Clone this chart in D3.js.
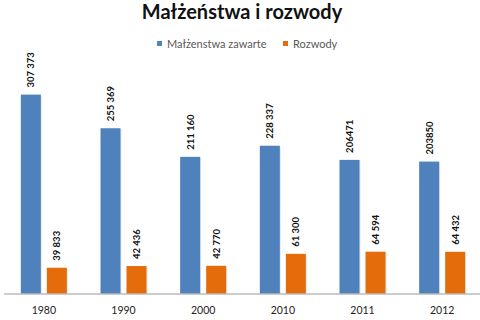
<!DOCTYPE html>
<html>
<head>
<meta charset="utf-8">
<script src="https://cdn.jsdelivr.net/npm/d3@7"></script>
<style>
  body { margin: 0; background: #fff; }
  svg { display: block; }
</style>
</head>
<body>
<svg id="chart" width="480" height="320"></svg>
<script>
var years = ["1980", "1990", "2000", "2010", "2011", "2012"];
var marriages = [307373, 255369, 211160, 228337, 206471, 203850];
var divorces = [39833, 42436, 42770, 61300, 64594, 64432];
var marriageLabels = ["307 373", "255 369", "211 160", "228 337", "206471", "203850"];
var divorceLabels = ["39 833", "42 436", "42 770", "61 300", "64 594", "64 432"];
var seriesNames = ["Małżenstwa zawarte", "Rozwody"];

var colors = ["#4f81bd", "#e46c0a"];
var font = "Lato, 'Open Sans', sans-serif";

var svg = d3.select("#chart");

var x = d3.scaleBand()
  .domain(years)
  .range([4, 482]);

var y = d3.scaleLinear()
  .domain([0, 350000])
  .range([293.5, 67]);

var barW = 20;

// title
svg.append("text")
  .attr("x", 242)
  .attr("y", 19)
  .attr("text-anchor", "middle")
  .style("font-family", font)
  .style("font-weight", "bold")
  .style("font-size", "20px")
  .style("fill", "#111")
  .text("Małżeństwa i rozwody");

// legend
var legend = svg.append("g").style("font-family", font).style("font-size", "11px");
var legendX = [157, 283];
seriesNames.forEach(function(name, i){
  legend.append("rect")
    .attr("x", legendX[i]).attr("y", 41)
    .attr("width", 5).attr("height", 5)
    .attr("fill", colors[i]);
  legend.append("text")
    .attr("x", legendX[i] + 10).attr("y", 47.5)
    .style("fill", "#595959")
    .text(name);
});

var groups = [
  {values: marriages, labels: marriageLabels, off: -13, color: colors[0]},
  {values: divorces, labels: divorceLabels, off: 13, color: colors[1]}
];

groups.forEach(function(g){
  var cx = function(d, i){ return x(years[i]) + x.bandwidth() / 2 + g.off; };

  // faint shadow
  svg.append("g").selectAll("rect")
    .data(g.values).enter().append("rect")
    .attr("x", function(d, i){ return cx(d, i) - barW / 2 + 1; })
    .attr("y", function(d){ return y(d) + 1; })
    .attr("width", barW)
    .attr("height", function(d){ return y(0) - y(d) - 1; })
    .attr("fill", "#d9d9d9")
    .attr("opacity", 0.6);

  svg.append("g").selectAll("rect")
    .data(g.values).enter().append("rect")
    .attr("x", function(d, i){ return cx(d, i) - barW / 2; })
    .attr("y", function(d){ return y(d); })
    .attr("width", barW)
    .attr("height", function(d){ return y(0) - y(d); })
    .attr("fill", g.color);

  svg.append("g").selectAll("text")
    .data(g.values).enter().append("text")
    .attr("transform", function(d, i){
      return "translate(" + (cx(d, i) + 3.5) + "," + (y(d) - 7) + ") rotate(-90)";
    })
    .style("font-family", font)
    .style("font-weight", "bold")
    .style("font-size", "9.5px")
    .style("fill", "#111")
    .text(function(d, i){ return g.labels[i]; });
});

// x axis
var xAxis = svg.append("g")
  .attr("transform", "translate(0," + y(0) + ")")
  .call(d3.axisBottom(x).tickSize(0).tickPadding(13));
xAxis.select(".domain").attr("stroke", "#9a9a9a").attr("d", "M4,0.5H480");
xAxis.selectAll("text")
  .style("font-family", font)
  .style("font-size", "10.5px")
  .style("fill", "#222");
</script>
</body>
</html>
